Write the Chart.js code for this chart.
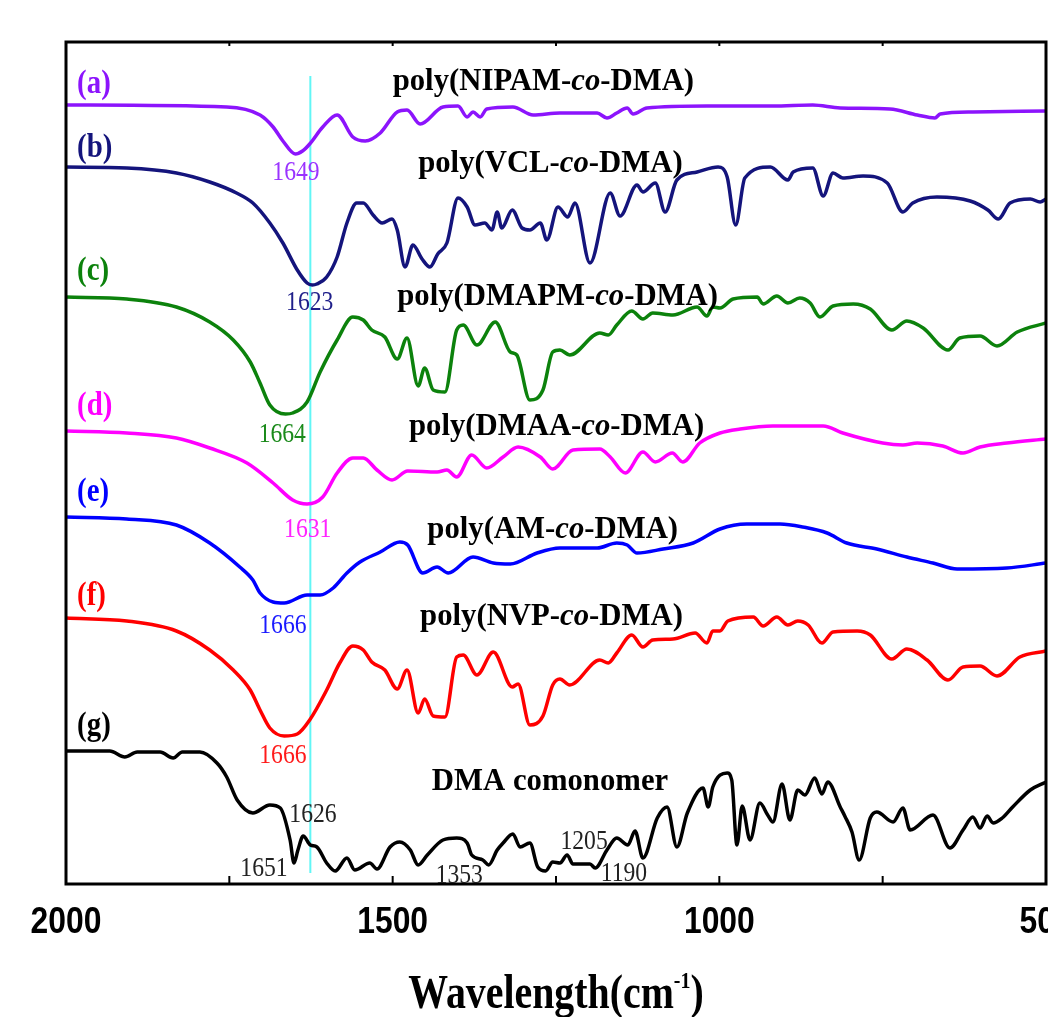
<!DOCTYPE html>
<html>
<head>
<meta charset="utf-8">
<title>FTIR spectra</title>
<script src="https://cdn.jsdelivr.net/npm/chart.js@4/dist/chart.umd.min.js"></script>
<style>
  html, body { margin: 0; padding: 0; background: #fff; overflow: hidden; }
  #wrap { position: relative; width: 1048px; height: 1017px; }
</style>
</head>
<body>
<div id="wrap"><canvas id="ftir"></canvas></div>
<script>
// [wavenumber (cm-1), transmittance (a.u., stacked)]
const specA = [[2000,77.9],[1754,77.7],[1703,76.9],[1683,75.7],[1668,74.3],[1649,73.0],[1638,73.3],[1627,74.0],[1607,75.7],[1585,76.9],[1561,74.7],[1542,74.3],[1519,75.1],[1493,77.2],[1478,77.4],[1458,76.0],[1423,77.7],[1400,77.8],[1386,76.7],[1377,77.2],[1366,76.7],[1356,77.5],[1316,77.7],[1285,76.9],[1244,77.1],[1187,77.1],[1172,76.6],[1157,77.1],[1141,77.6],[1132,77.0],[1111,77.6],[1019,77.8],[918,77.8],[857,77.9],[815,77.6],[739,77.5],[697,76.9],[670,76.6],[662,77.0],[612,77.2],[500,77.3]];

const specB = [[2000,71.7],[1907,71.6],[1831,71.1],[1780,70.2],[1739,69.1],[1714,68.1],[1688,66.1],[1668,64.1],[1646,61.4],[1631,60.1],[1623,59.9],[1616,60.0],[1601,60.7],[1585,62.7],[1570,66.1],[1555,68.1],[1545,68.1],[1530,66.9],[1516,66.1],[1501,66.5],[1493,65.4],[1481,61.7],[1469,63.9],[1455,62.5],[1443,61.7],[1431,63.0],[1417,64.1],[1400,68.6],[1386,67.7],[1374,65.9],[1359,66.1],[1348,65.4],[1340,67.2],[1333,65.6],[1317,67.4],[1302,65.6],[1290,65.4],[1274,66.1],[1264,64.4],[1247,67.7],[1232,66.7],[1221,68.1],[1198,62.1],[1167,69.1],[1152,66.8],[1126,69.9],[1117,69.2],[1098,70.1],[1083,67.2],[1065,70.4],[1034,71.2],[1002,71.7],[988,70.7],[975,65.9],[961,70.6],[922,71.7],[895,70.4],[887,71.2],[857,71.6],[841,68.8],[826,71.1],[811,70.6],[780,70.8],[743,70.1],[719,67.2],[704,68.1],[667,68.7],[616,68.3],[589,67.4],[573,66.5],[555,68.1],[524,68.5],[509,68.2],[500,68.5]];

const specC = [[2000,58.7],[1907,58.5],[1831,57.7],[1780,56.2],[1744,54.4],[1718,52.2],[1703,50.1],[1688,47.9],[1664,47.0],[1653,47.1],[1631,48.2],[1611,51.2],[1585,54.4],[1561,56.7],[1545,56.4],[1532,55.4],[1512,54.7],[1493,52.5],[1478,54.6],[1461,49.8],[1451,51.6],[1438,49.4],[1420,49.2],[1402,55.4],[1392,55.9],[1371,53.9],[1343,56.2],[1320,53.2],[1310,52.9],[1290,48.4],[1270,49.4],[1255,53.2],[1244,53.4],[1229,52.9],[1183,55.1],[1170,54.9],[1157,55.9],[1134,57.3],[1117,56.5],[1102,57.1],[1071,56.9],[1034,57.7],[1019,56.8],[1010,57.7],[999,57.6],[979,58.5],[942,58.7],[933,58.0],[912,58.8],[895,58.1],[877,58.6],[861,58.1],[846,56.7],[826,57.8],[795,58.0],[769,57.5],[736,55.4],[713,56.3],[688,55.6],[650,53.4],[632,54.6],[601,54.8],[575,53.8],[544,55.2],[500,56.1]];

const specD = [[2000,45.3],[1907,45.1],[1831,44.6],[1780,43.6],[1723,42.1],[1683,40.1],[1653,38.4],[1631,38.0],[1607,38.7],[1585,41.1],[1561,42.6],[1545,42.6],[1524,41.4],[1501,40.4],[1477,41.3],[1432,41.2],[1417,41.4],[1402,40.7],[1379,42.9],[1356,41.6],[1331,42.7],[1308,43.7],[1274,42.7],[1255,41.5],[1224,43.4],[1183,43.5],[1167,42.7],[1144,41.1],[1117,43.2],[1098,42.2],[1072,43.1],[1056,42.2],[1030,44.1],[999,45.1],[968,45.5],[918,45.8],[841,45.8],[811,45.1],[750,44.1],[719,43.9],[697,44.1],[658,43.8],[627,43.1],[601,43.7],[560,44.1],[500,44.5]];

const specE = [[2000,36.7],[1907,36.5],[1831,35.9],[1780,34.1],[1734,31.7],[1714,30.4],[1703,29.1],[1683,28.2],[1666,28.1],[1631,28.9],[1611,28.9],[1591,29.6],[1570,31.1],[1550,32.2],[1519,33.2],[1489,34.2],[1477,33.9],[1454,31.1],[1432,31.7],[1415,31.1],[1377,32.7],[1346,32.1],[1320,32.0],[1279,33.1],[1244,33.6],[1187,33.6],[1157,34.1],[1141,33.9],[1126,33.1],[1086,33.5],[1040,34.1],[999,35.5],[958,36.0],[907,36.0],[872,35.7],[835,35.1],[805,34.1],[759,33.5],[713,32.7],[673,32.1],[636,31.5],[560,31.6],[500,32.1]];

const specF = [[2000,26.6],[1907,26.3],[1831,25.3],[1780,23.4],[1744,21.4],[1718,19.4],[1703,17.4],[1688,15.6],[1666,14.8],[1646,15.0],[1627,16.4],[1601,19.4],[1581,22.1],[1561,23.8],[1545,23.4],[1532,22.2],[1512,21.4],[1493,19.5],[1478,21.4],[1461,17.1],[1451,18.5],[1438,16.8],[1420,16.7],[1402,22.7],[1392,22.9],[1371,20.9],[1346,23.2],[1317,19.7],[1308,20.0],[1290,15.9],[1270,16.8],[1255,19.9],[1244,20.5],[1229,19.9],[1183,22.4],[1170,22.1],[1157,23.1],[1134,24.9],[1117,23.7],[1102,24.4],[1071,24.5],[1037,25.1],[1019,24.1],[1010,25.3],[999,25.3],[987,26.3],[948,26.7],[933,25.8],[912,26.7],[895,25.9],[880,26.3],[864,25.9],[843,24.1],[826,25.2],[789,25.3],[769,24.9],[736,22.5],[713,23.5],[682,22.4],[650,20.4],[627,21.7],[601,21.8],[575,20.8],[540,22.7],[500,23.3]];

const specG = [[2000,13.3],[1933,13.3],[1910,12.7],[1891,13.2],[1856,13.2],[1836,12.6],[1822,13.2],[1795,13.2],[1769,12.1],[1754,10.7],[1738,8.4],[1714,7.1],[1688,7.9],[1672,7.6],[1657,4.4],[1651,2.1],[1645,3.4],[1637,4.8],[1626,3.9],[1616,3.7],[1601,2.1],[1588,1.3],[1570,2.6],[1558,1.4],[1535,2.1],[1524,1.5],[1504,3.7],[1489,4.2],[1473,3.4],[1461,1.9],[1447,2.9],[1423,4.4],[1402,4.6],[1386,4.1],[1379,2.9],[1362,2.4],[1353,1.9],[1340,3.4],[1331,4.1],[1316,5.0],[1305,3.7],[1290,4.1],[1278,1.7],[1266,1.3],[1255,2.2],[1244,2.1],[1233,2.9],[1224,2.0],[1198,2.0],[1190,1.6],[1172,3.4],[1157,4.6],[1140,3.9],[1129,5.3],[1117,2.6],[1095,6.6],[1080,7.7],[1065,3.7],[1049,7.1],[1025,9.6],[1017,7.7],[1010,9.7],[988,11.1],[981,10.4],[973,3.9],[965,7.8],[953,4.4],[938,8.1],[926,6.9],[918,6.2],[904,10.0],[892,6.4],[880,9.4],[869,8.9],[854,10.6],[843,9.0],[834,10.2],[815,7.7],[808,6.8],[797,5.2],[786,2.4],[769,6.6],[759,7.2],[734,6.2],[719,7.6],[708,5.4],[673,6.9],[647,3.6],[627,5.4],[612,6.7],[601,5.6],[590,6.8],[581,6.1],[567,6.6],[551,7.7],[524,9.4],[500,10.2]];

// reference line at the DMA C=C band
const refLine = [[1626,80.8],[1626,1.1]];

const letters = ['(a)', '(b)', '(c)', '(d)', '(e)', '(f)', '(g)'];
const seriesNames = ['poly(NIPAM-co-DMA)', 'poly(VCL-co-DMA)', 'poly(DMAPM-co-DMA)', 'poly(DMAA-co-DMA)', 'poly(AM-co-DMA)', 'poly(NVP-co-DMA)', 'DMA comonomer'];
const peakLabels = ['1649', '1623', '1664', '1631', '1666', '1666', '1626', '1651', '1353', '1205', '1190'];
const tickLabels = [2000, 1500, 1000, 500];
const minorTicks = [1750, 1500, 1250, 1000, 750];

const colors = ['#8c14fc', '#14147c', '#0c820c', '#ff00ff', '#0000ff', '#ff0000', '#000000'];
const spectra = [specA, specB, specC, specD, specE, specF, specG];

const SERIF = "'Liberation Serif', 'Times New Roman', serif";
const SANS = "'Liberation Sans', Arial, sans-serif";

function toPoints(arr) {
  return arr.map(p => ({ x: p[0], y: p[1] }));
}

// canvas text with a horizontal squeeze
function squeezed(ctx, str, x, y, font, color, align, sx, base) {
  ctx.save();
  ctx.font = font;
  ctx.fillStyle = color;
  ctx.textAlign = 'left';
  ctx.textBaseline = base || 'alphabetic';
  const w = ctx.measureText(str).width * sx;
  const left = align === 'center' ? x - w / 2 : x;
  ctx.translate(left, y);
  ctx.scale(sx, 1);
  ctx.fillText(str, 0, 0);
  ctx.restore();
  return w;
}

const annotate = {
  id: 'annotate',
  afterDraw(chart) {
    const { ctx, chartArea: a, scales: { x, y } } = chart;
    const px = v => x.getPixelForValue(v);
    const py = v => y.getPixelForValue(v);

    // frame + tick marks
    ctx.save();
    ctx.strokeStyle = '#000';
    ctx.lineWidth = 3;
    ctx.strokeRect(a.left, a.top, a.right - a.left, a.bottom - a.top);
    ctx.lineWidth = 2;
    ctx.beginPath();
    minorTicks.forEach(v => {
      ctx.moveTo(px(v), a.bottom);
      ctx.lineTo(px(v), a.bottom - 8);
      ctx.moveTo(px(v), a.top);
      ctx.lineTo(px(v), a.top + 4);
    });
    ctx.stroke();
    ctx.restore();

    // tick labels
    tickLabels.forEach(v => {
      squeezed(ctx, String(v), px(v), a.bottom + 49, 'bold 37px ' + SANS, '#000', 'center', 0.86);
    });

    // axis title with superscript
    ctx.save();
    const tf = 'bold 48px ' + SERIF;
    const sf = 'bold 24px ' + SERIF;
    const s = 0.83;
    ctx.font = tf;
    const w1 = ctx.measureText('Wavelength(cm').width * s;
    const w3 = ctx.measureText(')').width * s;
    ctx.font = sf;
    const w2 = ctx.measureText('-1').width * s;
    ctx.restore();
    let tx = (a.left + a.right) / 2 - (w1 + w2 + w3) / 2;
    const ty = a.bottom + 124;
    tx += squeezed(ctx, 'Wavelength(cm', tx, ty, tf, '#000', 'left', s);
    tx += squeezed(ctx, '-1', tx, ty - 20, sf, '#000', 'left', s);
    squeezed(ctx, ')', tx, ty, tf, '#000', 'left', s);

    // (a)..(g)
    const letterY = [80.0, 73.6, 61.3, 47.8, 39.2, 28.8, 15.8];
    letters.forEach((t, i) => {
      squeezed(ctx, t, px(1983), py(letterY[i]), 'bold 33px ' + SERIF, colors[i], 'left', 0.875, 'middle');
    });

    // sample names, "co" in italics
    const titleAt = [[1500, 79.4], [1461, 71.2], [1493, 57.9], [1475, 44.9], [1447, 34.6], [1458, 25.9], [1440, 9.4]];
    const nf = 'bold 32px ' + SERIF;
    const ns = 0.96;
    seriesNames.forEach((name, i) => {
      let cx = px(titleAt[i][0]);
      const cy = py(titleAt[i][1]);
      const parts = name.split('-co-');
      if (parts.length === 2) {
        cx += squeezed(ctx, parts[0] + '-', cx, cy, nf, '#000', 'left', ns);
        cx += squeezed(ctx, 'co', cx, cy, 'italic ' + nf, '#000', 'left', ns);
        squeezed(ctx, '-' + parts[1], cx, cy, nf, '#000', 'left', ns);
      } else {
        squeezed(ctx, name, cx, cy, nf, '#000', 'left', ns);
      }
    });

    // band positions
    const peakAt = [[1648, 70.4], [1627, 57.4], [1669, 44.2], [1630, 34.7], [1668, 25.1], [1668, 12.1], [1622, 6.2], [1697, 0.8], [1398, 0.1], [1207, 3.5], [1146, 0.3]];
    const peakColor = ['#9a33ff', '#1f1f8a', '#1a8a1a', '#ff22ff', '#1a1aff', '#ff1a1a', '#222', '#222', '#222', '#222', '#222'];
    peakLabels.forEach((t, i) => {
      squeezed(ctx, t, px(peakAt[i][0]), py(peakAt[i][1]), '27px ' + SERIF, peakColor[i], 'center', 0.875);
    });
  }
};

const datasets = spectra.map((sp, i) => ({
  data: toPoints(sp),
  borderColor: colors[i],
  borderWidth: 3.5,
  pointRadius: 0,
  cubicInterpolationMode: 'monotone',
  fill: false
}));
datasets.push({
  data: toPoints(refLine),
  borderColor: '#62f6f6',
  borderWidth: 2,
  pointRadius: 0,
  fill: false
});

new Chart(document.getElementById('ftir').getContext('2d'), {
  type: 'line',
  data: { datasets: datasets },
  options: {
    responsive: true,
    maintainAspectRatio: false,
    animation: false,
    layout: { padding: { left: 66, right: 2, top: 42, bottom: 73 } },
    plugins: { legend: { display: false }, tooltip: { enabled: false } },
    scales: {
      x: {
        type: 'linear',
        reverse: true,
        min: 500,
        max: 2000,
        grid: { display: false },
        border: { display: false },
        ticks: { display: false },
        afterFit(scale) {
          scale.paddingLeft = 0;
          scale.paddingRight = 0;
          scale.height = 60;
        }
      },
      y: { display: false, min: 0, max: 84.2 }
    }
  },
  plugins: [annotate]
});
</script>
</body>
</html>
